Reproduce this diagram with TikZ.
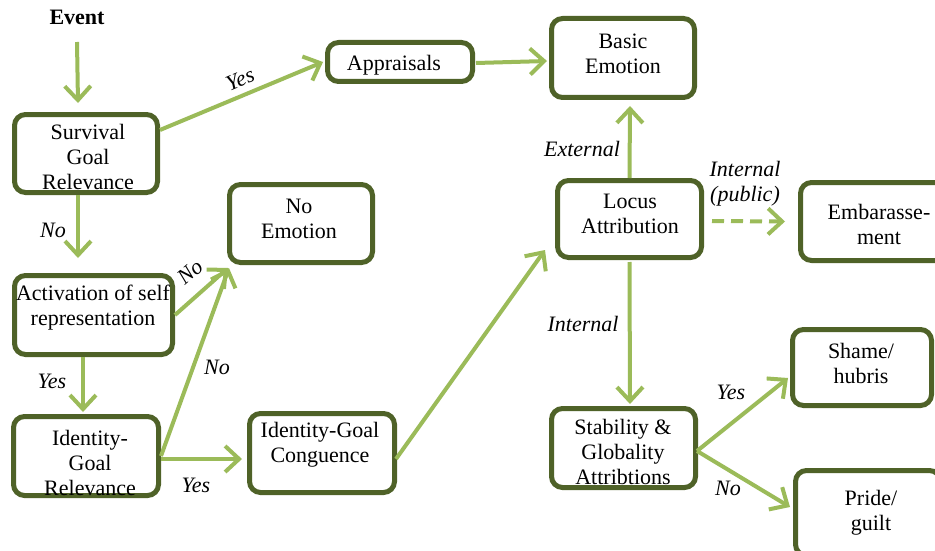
\documentclass[tikz,border=0pt]{standalone}
\usepackage{fontspec}
\setmainfont{Liberation Serif}
\usetikzlibrary{arrows.meta}
\definecolor{boxline}{RGB}{79,98,40}
\definecolor{flow}{RGB}{155,187,89}
\begin{document}
\begin{tikzpicture}[x=1pt,y=-1pt,
  box/.style={draw=boxline, line width=5pt, rounded corners=11pt, fill=white, inner sep=0pt},
  txt/.style={align=center, font=\fontsize{22}{25}\selectfont, inner sep=0pt},
  lbl/.style={align=center, font=\fontsize{22}{25}\selectfont\itshape, inner sep=0pt},
  flowarrow/.style={draw=flow, line width=4pt, -{Straight Barb[length=14pt,width=26pt]}},
]
\useasboundingbox (0,0) rectangle (935,551);
\clip (0,0) rectangle (935,551);

% ---- boxes ----
\node[box, minimum width=143pt, minimum height=78pt] (sgr) at (86,153.5) {};
\node[box, minimum width=145pt, minimum height=39pt] (app) at (400,62) {};
\node[box, minimum width=143pt, minimum height=79pt] (bas) at (623,58) {};
\node[box, minimum width=143pt, minimum height=78pt] (noe) at (301,223.5) {};
\node[box, minimum width=144pt, minimum height=77pt] (loc) at (629.5,219) {};
\node[box, minimum width=158pt, minimum height=78pt] (emb) at (879.5,221.5) {};
\node[box, minimum width=158pt, minimum height=79pt] (act) at (93.5,315) {};
\node[box, minimum width=145pt, minimum height=79pt] (igr) at (86,456) {};
\node[box, minimum width=145pt, minimum height=79pt] (igc) at (322,453) {};
\node[box, minimum width=144pt, minimum height=79pt] (sta) at (623.5,448) {};
\node[box, minimum width=139pt, minimum height=76pt] (sha) at (862,367.5) {};
\node[box, minimum width=145pt, minimum height=85pt] (pri) at (868,513) {};

% ---- box texts ----
\node[txt, font=\fontsize{22}{25}\selectfont\bfseries] (ev) at (77,17) {Event};
\node[txt] (sgrt) at (88,157) {Survival\\Goal\\Relevance};
\node[txt] (appt) at (394,65) {Appraisals};
\node[txt] (bast) at (623,54) {Basic\\Emotion};
\node[txt] (noet) at (299,219) {No\\Emotion};
\node[txt] (loct) at (630,214) {Locus\\Attribution};
\node[txt] (embt) at (879,224) {Embarasse-\\ment};
\node[txt] (actt) at (93,308) {Activation of self\\representation};
\node[txt] (igrt) at (90,463) {Identity-\\Goal\\Relevance};
\node[txt] (igct) at (320,445) {Identity-Goal\\Conguence};
\node[txt] (stat) at (623,452) {Stability \&\\Globality\\Attribtions};
\node[txt] (shat) at (861,363) {Shame/\\hubris};
\node[txt] (prit) at (871,513) {Pride/\\guilt};

% ---- connectors ----
\draw[flowarrow] ([yshift=-25pt]ev.center) -- ([xshift=-8pt,yshift=9pt]sgr.north);
\draw[flowarrow] ([yshift=23.5pt]sgr.east) -- ([xshift=-2pt]app.west);
\draw[flowarrow] ([xshift=1pt,yshift=-1pt]app.east) -- ([xshift=-2pt,yshift=-3pt]bas.west);
\draw[flowarrow] ([xshift=-8pt]sgr.south) -- ([xshift=-15.5pt,yshift=15pt]act.north);
\draw[flowarrow] (act.east) -- ([xshift=1pt,yshift=-3pt]noe.south west);
\draw[flowarrow] ([xshift=-10.5pt]act.south) -- ([xshift=-3pt,yshift=2pt]igr.north);
\draw[flowarrow] (igr.east) -- ([xshift=2pt,yshift=-3pt]noe.south west);
\draw[flowarrow] ([yshift=-3pt]igr.east) -- ([xshift=-5pt,yshift=-6pt]igc.west);
\draw[flowarrow] ([xshift=-1pt,yshift=-6pt]igc.east) -- ([xshift=-10pt,yshift=-31pt]loc.west);
\draw[flowarrow] (loc.north) -- ([xshift=7pt,yshift=-6pt]bas.south);
\draw[flowarrow, dash pattern=on 12pt off 7pt] ([xshift=8pt,yshift=-2pt]loc.east) -- ([xshift=-13pt]emb.west);
\draw[flowarrow] ([yshift=-2pt]loc.south) -- ([xshift=6.5pt,yshift=2pt]sta.north);
\draw[flowarrow] ([xshift=-1pt,yshift=-3pt]sta.east) -- ([xshift=-2pt,yshift=-10.5pt]sha.west);
\draw[flowarrow] ([xshift=-1pt,yshift=-3pt]sta.east) -- ([xshift=-3pt,yshift=6pt]pri.west);

% ---- connector labels ----
\node[lbl, rotate=22.6] (l1) at (240,79) {Yes};
\node[lbl] (l2) at (53,230) {No};
\node[lbl, rotate=41] (l3) at (190,272) {No};
\node[lbl] (l4) at (52,381) {Yes};
\node[lbl] (l5) at (217,367) {No};
\node[lbl] (l6) at (196,485) {Yes};
\node[lbl] (l7) at (582,149) {External};
\node[lbl] (l8) at (745,184) {Internal\\(public)};
\node[lbl] (l9) at (583,324) {Internal};
\node[lbl] (l10) at (731,392) {Yes};
\node[lbl] (l11) at (728,488) {No};
\end{tikzpicture}
\end{document}
